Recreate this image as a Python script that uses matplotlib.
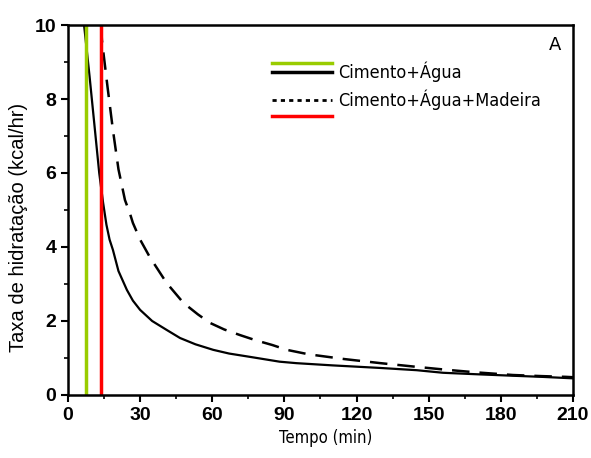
import numpy as np
import matplotlib.pyplot as plt
from matplotlib.ticker import MultipleLocator

# dados (tempo em min, taxa em kcal/hr)
t_agua = [6.7, 9, 11, 13, 14.6, 16, 17.3, 18.7, 21, 24.5, 27, 30, 35, 41, 46.6,
          53, 60.4, 67, 75.7, 88, 95, 110, 130, 145, 156, 170, 185, 197, 210]
q_agua = [10.0, 8.6, 7.3, 6.0, 5.2, 4.6, 4.2, 3.92, 3.35, 2.84, 2.55, 2.3, 2.0, 1.76, 1.54,
          1.37, 1.22, 1.12, 1.03, 0.9, 0.86, 0.8, 0.73, 0.67, 0.6, 0.56, 0.52, 0.49, 0.45]

t_madeira = [13.8, 14.1, 16.5, 18.7, 21, 23.7, 25.8, 27, 30, 34, 41, 48, 54, 59, 65, 71.5,
             78, 85, 91, 100, 115, 130, 145, 157.6, 170, 185, 197, 207, 210]
q_madeira = [10.0, 9.6, 8.3, 7.16, 6.1, 5.27, 4.9, 4.65, 4.2, 3.73, 3.03, 2.49, 2.18, 1.95, 1.77, 1.62,
             1.48, 1.35, 1.22, 1.1, 0.97, 0.86, 0.76, 0.68, 0.61, 0.54, 0.51, 0.49, 0.48]

t_verde = 7.5
t_vermelho = 13.7

xticks = [0, 30, 60, 90, 120, 150, 180, 210]
yticks = [0, 2, 4, 6, 8, 10]

fig = plt.figure(figsize=(5.91, 4.58), dpi=100)
ax = fig.add_axes([0.115, 0.1376, 0.8545, 0.8078])

ax.plot(t_agua, q_agua, color='black', lw=1.6)
ax.plot(t_madeira, q_madeira, color='black', lw=1.8, dashes=(7, 4))
ax.axvline(t_verde, color='#99cc00', lw=2.5)
ax.axvline(t_vermelho, color='red', lw=2.5)

ax.set_xlim(0, 210)
ax.set_ylim(0, 10)
ax.set_xticks(xticks)
ax.set_yticks(yticks)
ax.xaxis.set_minor_locator(MultipleLocator(15))
ax.yaxis.set_minor_locator(MultipleLocator(1))
ax.tick_params(which='major', direction='out', length=5, width=1.5, labelsize=14)
ax.tick_params(which='minor', direction='out', length=3, width=1.2)
for lab in ax.get_xticklabels() + ax.get_yticklabels():
    lab.set_fontweight('bold')
    lab.set_family(['Liberation Sans', 'DejaVu Sans'])
for s in ax.spines.values():
    s.set_linewidth(1.8)

fnt = ['DejaVu Sans']
ax.set_xlabel('Tempo (min)', fontsize=12, family=fnt, fontstretch='condensed')
ax.set_ylabel('Taxa de hidratação (kcal/hr)', fontsize=14.5, family=['Liberation Sans', 'DejaVu Sans'])
ax.xaxis.set_label_coords(0.511, -0.093)
ax.yaxis.set_label_coords(-0.08, 0.454)

# legenda desenhada à mão
leg = dict(transform=ax.transAxes, clip_on=False)
ax.plot([0.404, 0.523], [0.897, 0.897], color='#99cc00', lw=2.5, **leg)
ax.plot([0.404, 0.523], [0.873, 0.873], color='black', lw=2.5, **leg)
ax.plot([0.404, 0.523], [0.797, 0.797], color='black', lw=2, ls=(0, (1.5, 1.5)), **leg)
ax.plot([0.404, 0.523], [0.754, 0.754], color='red', lw=2.5, **leg)
ax.text(0.535, 0.873, 'Cimento+Água', transform=ax.transAxes, fontsize=13, family=fnt,
        fontstretch='condensed', va='center')
ax.text(0.535, 0.797, 'Cimento+Água+Madeira', transform=ax.transAxes, fontsize=13, family=fnt,
        fontstretch='condensed', va='center')
ax.text(0.965, 0.945, 'A', transform=ax.transAxes, fontsize=13, family=fnt, ha='center', va='center')

fig.savefig('out.png', dpi=100)
